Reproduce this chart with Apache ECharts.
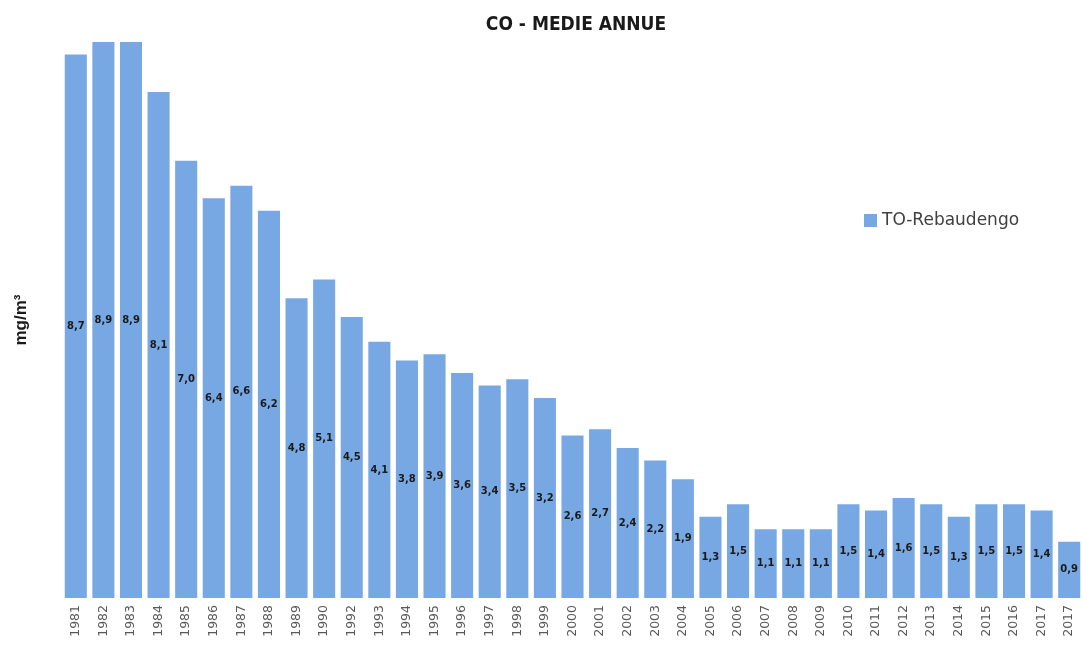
<!DOCTYPE html>
<html><head><meta charset="utf-8">
<script src="https://cdn.jsdelivr.net/npm/echarts@6/dist/echarts.min.js"></script>
<style>html,body{margin:0;padding:0;background:#fff}#c{width:1083px;height:648px}</style>
</head><body><div id="c"></div>
<script>
const years = ['1981','1982','1983','1984','1985','1986','1987','1988','1989','1990','1992','1993','1994','1995','1996','1997','1998','1999','2000','2001','2002','2003','2004','2005','2006','2007','2008','2009','2010','2011','2012','2013','2014','2015','2016','2017','2017 '];
const values = [8.7,8.9,8.9,8.1,7.0,6.4,6.6,6.2,4.8,5.1,4.5,4.1,3.8,3.9,3.6,3.4,3.5,3.2,2.6,2.7,2.4,2.2,1.9,1.3,1.5,1.1,1.1,1.1,1.5,1.4,1.6,1.5,1.3,1.5,1.5,1.4,0.9];
const seriesName = 'TO-Rebaudengo';
const chart = echarts.init(document.getElementById('c'));
chart.setOption({
  animation:false,
  title:{text:'CO - MEDIE ANNUE',left:571,textAlign:'center',top:11,
    textStyle:{fontFamily:'Liberation Sans Narrow, DejaVu Sans Condensed, sans-serif',fontSize:19,fontWeight:'bold',color:'#1a1a1a'}},
  legend:{data:[seriesName],left:859,top:207,itemWidth:13,itemHeight:13,itemGap:4,icon:'rect',
    textStyle:{fontFamily:'DejaVu Sans, sans-serif',fontSize:17,color:'#404040'}},
  grid:{left:62,right:-2,top:42,bottom:50,containLabel:false},
  xAxis:{type:'category',data:years,axisLine:{show:false},axisTick:{show:false},
    axisLabel:{rotate:90,interval:0,margin:7,fontFamily:'DejaVu Sans, sans-serif',fontSize:12.5,color:'#595959',
      formatter:v=>v.trim()}},
  yAxis:{type:'value',min:0,max:8.9,show:true,name:'mg/m³',nameLocation:'middle',nameGap:32,nameRotate:90,
    nameTextStyle:{fontFamily:'Liberation Sans, Arial, sans-serif',fontSize:17,fontWeight:'bold',color:'#1a1a1a'},
    axisLine:{show:false},axisTick:{show:false},axisLabel:{show:false},splitLine:{show:false}},
  series:[{name:seriesName,type:'bar',data:values,barCategoryGap:'20%',
    itemStyle:{color:'#78A8E3'},
    label:{show:true,position:'inside',fontFamily:'DejaVu Sans, sans-serif',fontSize:10,fontWeight:'bold',color:'#1a1a1a',
      formatter:p=>p.value.toFixed(1).replace('.',',')}}]
});
</script></body></html>
